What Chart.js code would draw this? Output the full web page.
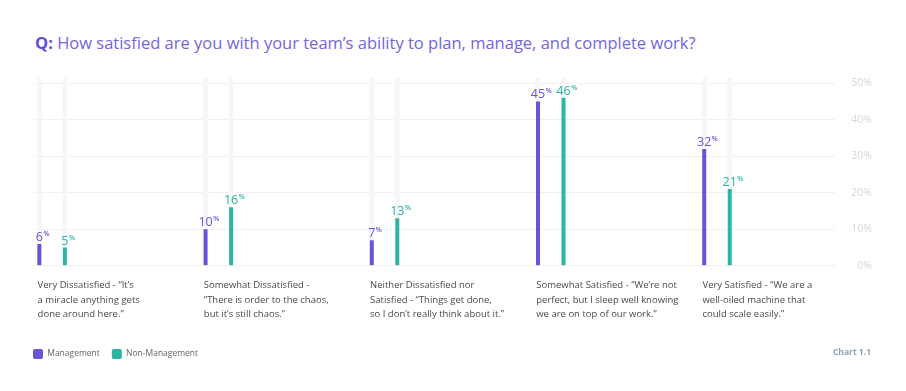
<!DOCTYPE html>
<html>
<head>
<meta charset="utf-8">
<script src="https://cdn.jsdelivr.net/npm/chart.js@4.4.1/dist/chart.umd.min.js"></script>
<style>
  body { margin: 0; background: #fff; }
  #wrap { position: relative; width: 906px; height: 391px; font-family: "Open Sans", sans-serif; }
  #wrap canvas { position: absolute; left: 0; top: 0; }
  .title { position: absolute; left: 35px; top: 31px; font-size: 16.5px; color: #7366dd; white-space: nowrap; }
  .title b { color: #5f50d4; font-weight: 700; }
  .note { position: absolute; right: 35px; top: 346px; font-size: 8.5px; font-weight: 700; color: #90a1b4; }
</style>
</head>
<body>
<div id="wrap">
  <div class="title"><b>Q:</b> How satisfied are you with your team’s ability to plan, manage, and complete work?</div>
  <canvas id="chart" width="906" height="391"></canvas>
  <div class="note">Chart 1.1</div>
</div>
<script>
// answer categories, one array of lines per label
var categories = [
    ['Very Dissatisfied - “It’s', 'a miracle anything gets', 'done around here.”'],
    ['Somewhat Dissatisfied -', '“There is order to the chaos,', 'but it’s still chaos.”'],
    ['Neither Dissatisfied nor', 'Satisfied - “Things get done,', 'so I don’t really think about it.”'],
    ['Somewhat Satisfied - “We’re not', 'perfect, but I sleep well knowing', 'we are on top of our work.”'],
    ['Very Satisfied - “We are a', 'well-oiled machine that', 'could scale easily.”']
];
var seriesNames = ['Management', 'Non-Management'];
var management = [6, 10, 7, 45, 32];
var nonManagement = [5, 16, 13, 46, 21];
var yTicks = [0, 10, 20, 30, 40, 50];

var purple = '#6656d6';
var teal = '#2ab5a5';
var trackGrey = '#f6f6f8';
var yMax = 51.4;
var xMin = -0.115, xMax = 4.712;

function points(values) {
    return values.map(function(v, i) { return {x: i, y: v}; });
}
// rest of the column above each bar, up to the top of the scale
function rest(values) {
    return points(values.map(function(v) { return yMax - v; }));
}

// small "45%" labels above each bar, % raised
var valueLabels = {
    id: 'valueLabels',
    afterDatasetsDraw: function(chart) {
        var ctx = chart.ctx;
        [0, 1].forEach(function(di) {
            var ds = chart.data.datasets[di];
            chart.getDatasetMeta(di).data.forEach(function(bar, i) {
                var txt = String(ds.data[i].y);
                ctx.save();
                ctx.fillStyle = ds.backgroundColor;
                ctx.font = '12.5px "Open Sans"';
                ctx.textAlign = 'center';
                ctx.textBaseline = 'alphabetic';
                ctx.fillText(txt, bar.x, bar.y - 3);
                var w = ctx.measureText(txt).width;
                ctx.font = '600 7px "Open Sans"';
                ctx.textAlign = 'left';
                ctx.fillText('%', bar.x + w / 2 + 0.5, bar.y - 8);
                ctx.restore();
            });
        });
    }
};

var ctx = document.getElementById('chart');
var myChart = new Chart(ctx, {
    type: 'bar',
    data: {
        datasets: [{
            label: seriesNames[0],
            data: points(management),
            backgroundColor: purple,
            yAxisID: 'y',
            stack: 'm'
        }, {
            label: seriesNames[1],
            data: points(nonManagement),
            backgroundColor: teal,
            yAxisID: 'y',
            stack: 'n'
        }, {
            // light grey tracks above the bars
            label: 'track-m',
            data: rest(management),
            backgroundColor: trackGrey,
            maxBarThickness: 5,
            yAxisID: 'y',
            stack: 'm'
        }, {
            label: 'track-n',
            data: rest(nonManagement),
            backgroundColor: trackGrey,
            maxBarThickness: 5,
            yAxisID: 'y',
            stack: 'n'
        }]
    },
    options: {
        responsive: false,
        animation: false,
        devicePixelRatio: 1,
        layout: { padding: { left: 21, right: 34, top: 78, bottom: 22 } },
        datasets: {
            bar: {
                categoryPercentage: 0.307,
                barPercentage: 1,
                maxBarThickness: 4,
                borderRadius: 2,
                borderSkipped: false,
                borderWidth: 0
            }
        },
        scales: {
            x: {
                type: 'linear',
                offset: false,
                min: xMin,
                max: xMax,
                grid: { display: false, offset: false },
                border: { display: false },
                afterFit: function(scale) { scale.height += 11; },
                ticks: {
                    stepSize: 1,
                    includeBounds: false,
                    autoSkip: false,
                    maxRotation: 0,
                    align: 'start',
                    labelOffset: -14.5,
                    padding: 4,
                    color: '#4a4a4a',
                    font: { family: 'Open Sans', size: 9.5, lineHeight: 1.55 },
                    callback: function(v) {
                        return Number.isInteger(v) && categories[v] ? categories[v] : '';
                    }
                }
            },
            y: {
                position: 'right',
                stacked: true,
                min: 0,
                max: yMax,
                grid: { color: '#f1f1f1', drawTicks: false },
                border: { display: false },
                ticks: {
                    stepSize: 10,
                    includeBounds: false,
                    padding: 8,
                    crossAlign: 'far',
                    color: '#d6d6d6',
                    font: { family: 'Open Sans', size: 10.5 },
                    callback: function(v) { return yTicks.indexOf(v) >= 0 ? v + '%' : ''; }
                }
            },
            // empty left axis, only keeps the plot clear of the page edge
            yl: {
                position: 'left',
                display: true,
                grid: { display: false },
                border: { display: false },
                ticks: { display: false },
                afterFit: function(scale) { scale.width = 12; }
            }
        },
        plugins: {
            tooltip: { enabled: false },
            legend: {
                position: 'bottom',
                align: 'start',
                labels: {
                    filter: function(item) { return item.datasetIndex < 2; },
                    boxWidth: 10,
                    boxHeight: 10,
                    padding: 12,
                    useBorderRadius: true,
                    borderRadius: 2,
                    color: '#666',
                    font: { family: 'Open Sans', size: 8.5 }
                }
            }
        }
    },
    plugins: [valueLabels]
});
</script>
</body>
</html>
